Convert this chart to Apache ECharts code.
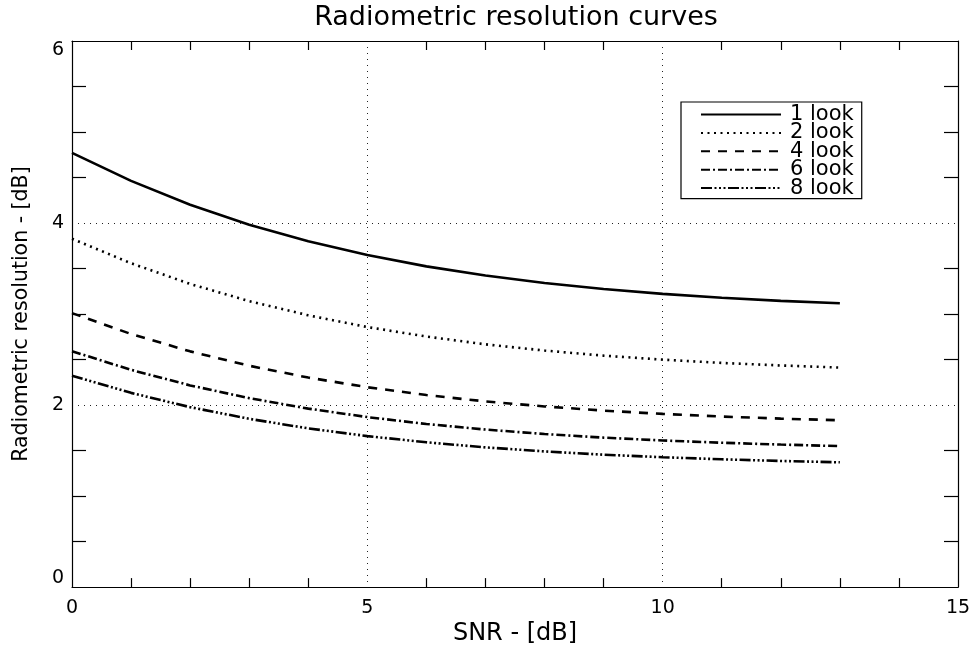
<!DOCTYPE html>
<html>
<head>
<meta charset="utf-8">
<script src="https://cdn.jsdelivr.net/npm/echarts@6/dist/echarts.min.js"></script>
<style>
  html, body { margin: 0; padding: 0; background: #fff; }
  #chart { width: 974px; height: 651px; }
</style>
</head>
<body>
<div id="chart"></div>
<script>
const chartTitle = 'Radiometric resolution curves';
const xName = 'SNR - [dB]';
const yName = 'Radiometric resolution - [dB]';
const xTicks = [0, 5, 10, 15];
const yTicks = [0, 2, 4, 6];
const seriesNames = ['1 look', '2 look', '4 look', '6 look', '8 look'];
const snr = [0, 1, 2, 3, 4, 5, 6, 7, 8, 9, 10, 11, 12, 13];
const look1 = [4.771, 4.463, 4.201, 3.981, 3.799, 3.648, 3.524, 3.423, 3.342, 3.275, 3.222, 3.179, 3.145, 3.118];
const look2 = [3.828, 3.558, 3.331, 3.142, 2.986, 2.857, 2.753, 2.667, 2.599, 2.543, 2.499, 2.463, 2.435, 2.412];
const look4 = [3.010, 2.781, 2.590, 2.432, 2.302, 2.196, 2.110, 2.040, 1.985, 1.939, 1.903, 1.874, 1.851, 1.833];
const look6 = [2.592, 2.387, 2.216, 2.076, 1.961, 1.868, 1.792, 1.731, 1.682, 1.642, 1.611, 1.586, 1.566, 1.549];
const look8 = [2.323, 2.134, 1.977, 1.849, 1.744, 1.659, 1.591, 1.535, 1.491, 1.455, 1.427, 1.404, 1.386, 1.371];

const FONT = 'DejaVu Sans';
const seriesValues = [look1, look2, look4, look6, look8];
const dashes = ['solid', [2, 4.5], [9, 8], [9, 3, 2, 3], [11, 2.5, 2, 2.5, 2, 2.5, 2, 2.5]];

const chart = echarts.init(document.getElementById('chart'), null, { renderer: 'canvas' });

const gridDot = { color: '#222', width: 1, type: [1, 5] };

function xAxisDef(pos, main) {
  return {
    type: 'value', position: pos, gridIndex: 0,
    min: xTicks[0], max: xTicks[xTicks.length - 1], interval: xTicks[1] - xTicks[0],
    axisLine: { show: true, onZero: false, lineStyle: { color: '#000', width: 1.2 } },
    axisTick: { show: false, inside: true },
    minorTick: { show: true, splitNumber: 5, length: 9, lineStyle: { color: '#000', width: 1.2 } },
    axisLabel: { show: main, color: '#000', fontFamily: FONT, fontSize: 19, margin: 11 },
    splitLine: { show: main, lineStyle: gridDot },
    name: main ? xName : '', nameLocation: 'middle', nameGap: 32,
    nameTextStyle: { color: '#000', fontFamily: FONT, fontSize: 24 }
  };
}
function yAxisDef(pos, main) {
  return {
    type: 'value', position: pos, gridIndex: 0,
    min: yTicks[0], max: yTicks[yTicks.length - 1], interval: yTicks[1] - yTicks[0],
    axisLine: { show: true, onZero: false, lineStyle: { color: '#000', width: 1.2 } },
    axisTick: { show: false, inside: true },
    minorTick: { show: true, splitNumber: 4, length: 14, lineStyle: { color: '#000', width: 1.2 } },
    axisLabel: { show: main, color: '#000', fontFamily: FONT, fontSize: 19, margin: 8,
                 verticalAlignMaxLabel: 'top', verticalAlignMinLabel: 'bottom' },
    splitLine: { show: main, lineStyle: gridDot },
    name: main ? yName : '', nameLocation: 'middle', nameGap: 40, nameRotate: 90,
    nameTextStyle: { color: '#000', fontFamily: FONT, fontSize: 20.5 }
  };
}

const option = {
  animation: false,
  backgroundColor: '#fff',
  grid: { left: 72, top: 41, width: 886, height: 548, containLabel: false },
  graphic: [{
    type: 'text', x: 516, y: 18,
    style: { text: chartTitle, fill: '#000', font: '27px "DejaVu Sans"', textAlign: 'center', textVerticalAlign: 'middle' }
  }],
  legend: {
    orient: 'vertical', left: 681, top: 102,
    data: seriesNames,
    backgroundColor: '#fff', borderColor: '#000', borderWidth: 1.2,
    padding: [2, 8, 0, 19],
    itemWidth: 80, itemHeight: 14, itemGap: -2.6,
    itemStyle: { color: 'rgba(0,0,0,0)', borderColor: 'rgba(0,0,0,0)', borderWidth: 0, opacity: 0 },
    textStyle: { color: '#000', fontFamily: FONT, fontSize: 21, padding: [0, 0, 0, 4] }
  },
  xAxis: [xAxisDef('bottom', true), xAxisDef('top', false)],
  yAxis: [yAxisDef('left', true), yAxisDef('right', false)],
  series: seriesNames.map((name, i) => ({
    name: name, type: 'line', xAxisIndex: 0, yAxisIndex: 0,
    data: snr.map((x, j) => [x, seriesValues[i][j]]),
    showSymbol: false, symbol: 'none',
    smooth: false,
    color: '#000',
    lineStyle: { color: '#000', width: 2.6, type: dashes[i] }
  }))
};
chart.setOption(option);
</script>
</body>
</html>
